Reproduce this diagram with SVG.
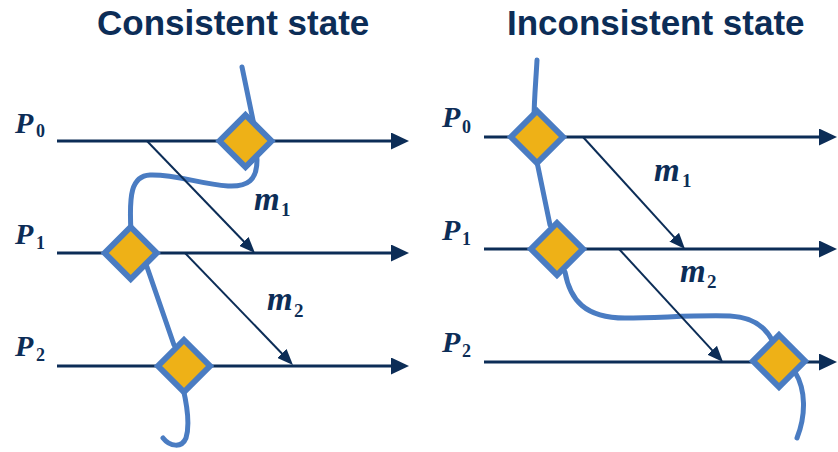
<svg xmlns="http://www.w3.org/2000/svg" width="838" height="452" viewBox="0 0 838 452">
  <style>
    .title { font-family: "Liberation Sans", Arial, sans-serif; font-weight: bold; font-size: 35px; fill: #0C2D57; }
    .var { font-family: "Liberation Serif", "Times New Roman", serif; font-weight: bold; font-style: italic; font-size: 30px; fill: #0C2D57; }
    .msgvar { font-size: 33px; }
    .sub { font-size: 18px; font-style: normal; }
    .msgsub { font-size: 19px; }
    .proc { stroke: #0C2D57; stroke-width: 3; fill: none; marker-end: url(#procHead); }
    .msg { stroke: #0C2D57; stroke-width: 2; fill: none; marker-end: url(#msgHead); }
    .cut { stroke: #4A7CC2; stroke-width: 5; fill: none; stroke-linecap: round; stroke-linejoin: round; }
    .snap { fill: #EEB117; stroke: #4A7CC2; stroke-width: 6; stroke-linejoin: miter; }
  </style>
  <defs>
    <marker id="procHead" markerUnits="userSpaceOnUse" markerWidth="18" markerHeight="17" refX="8" refY="8.5" orient="auto">
      <path d="M0,0 L18,8.5 L0,17 Z" fill="#0C2D57"/>
    </marker>
    <marker id="msgHead" markerUnits="userSpaceOnUse" markerWidth="16" markerHeight="13" refX="8" refY="6.5" orient="auto">
      <path d="M0,0 L16,6.5 L0,13 Z" fill="#0C2D57"/>
    </marker>
    <path id="diamond" d="M0,-26 L26,0 L0,26 L-26,0 Z"/>
  </defs>

  <!-- headings -->
  <text class="title" x="97" y="35">Consistent state</text>
  <text class="title" x="507" y="35">Inconsistent state</text>

  <!-- cut lines through the local snapshots -->
  <g id="cuts">
    <path class="cut" d="M242,67 L254,125 L257,160 C257,180 248,187 228,186 C200,184 175,174 150,175 C131,176 129,195 131,232 L147,267 L174,345 M183,388 C187,405 190,425 186,438 C182,448 170,447 163,438"/>
    <path class="cut" d="M537,60 C536,80 534,100 534,120 L537,162 L550,225 M565,272 C570,300 585,318 625,318 C660,318 690,315 730,316 C752,317 765,327 772,340 M795,372 C806,390 806,415 797,438"/>
  </g>

  <!-- process time lines and messages -->
  <g id="connectors">
    <line class="proc" x1="57" y1="141" x2="399" y2="141"/>
    <line class="proc" x1="57" y1="253" x2="399" y2="253"/>
    <line class="proc" x1="57" y1="366" x2="399" y2="366"/>
    <line class="msg" x1="147" y1="141" x2="249.4" y2="247.2"/>
    <line class="msg" x1="185" y1="253" x2="287.4" y2="359.2"/>

    <line class="proc" x1="484" y1="137" x2="827" y2="137"/>
    <line class="proc" x1="484" y1="249" x2="827" y2="249"/>
    <line class="proc" x1="484" y1="362" x2="827" y2="362"/>
    <line class="msg" x1="583" y1="137" x2="679.6" y2="243.1"/>
    <line class="msg" x1="619" y1="249" x2="717.6" y2="356.1"/>
  </g>

  <!-- consistent state: snapshots -->
  <g id="c-snap-p0"><use href="#diamond" class="snap" transform="translate(245.5,141)"/></g>
  <g id="c-snap-p1"><use href="#diamond" class="snap" transform="translate(130.7,253)"/></g>
  <g id="c-snap-p2"><use href="#diamond" class="snap" transform="translate(184,366)"/></g>

  <!-- inconsistent state: snapshots -->
  <g id="i-snap-p0"><use href="#diamond" class="snap" transform="translate(537,137)"/></g>
  <g id="i-snap-p1"><use href="#diamond" class="snap" transform="translate(557,249)"/></g>
  <g id="i-snap-p2"><use href="#diamond" class="snap" transform="translate(779,361)"/></g>

  <!-- process and message labels -->
  <g id="c-labels">
    <text class="var" x="15" y="133">P<tspan class="sub" x="36" y="137">0</tspan></text>
    <text class="var" x="15" y="244">P<tspan class="sub" x="36" y="249">1</tspan></text>
    <text class="var" x="15" y="356">P<tspan class="sub" x="36" y="361">2</tspan></text>
    <text class="var msgvar" x="254" y="210">m<tspan class="sub msgsub" x="281" y="216">1</tspan></text>
    <text class="var msgvar" x="267" y="310">m<tspan class="sub msgsub" x="294" y="317">2</tspan></text>
  </g>
  <g id="i-labels">
    <text class="var" x="442" y="127">P<tspan class="sub" x="462" y="133">0</tspan></text>
    <text class="var" x="442" y="240">P<tspan class="sub" x="462" y="245">1</tspan></text>
    <text class="var" x="442" y="352">P<tspan class="sub" x="462" y="357">2</tspan></text>
    <text class="var msgvar" x="654" y="181">m<tspan class="sub msgsub" x="682" y="187">1</tspan></text>
    <text class="var msgvar" x="680" y="282">m<tspan class="sub msgsub" x="707" y="288">2</tspan></text>
  </g>
</svg>
